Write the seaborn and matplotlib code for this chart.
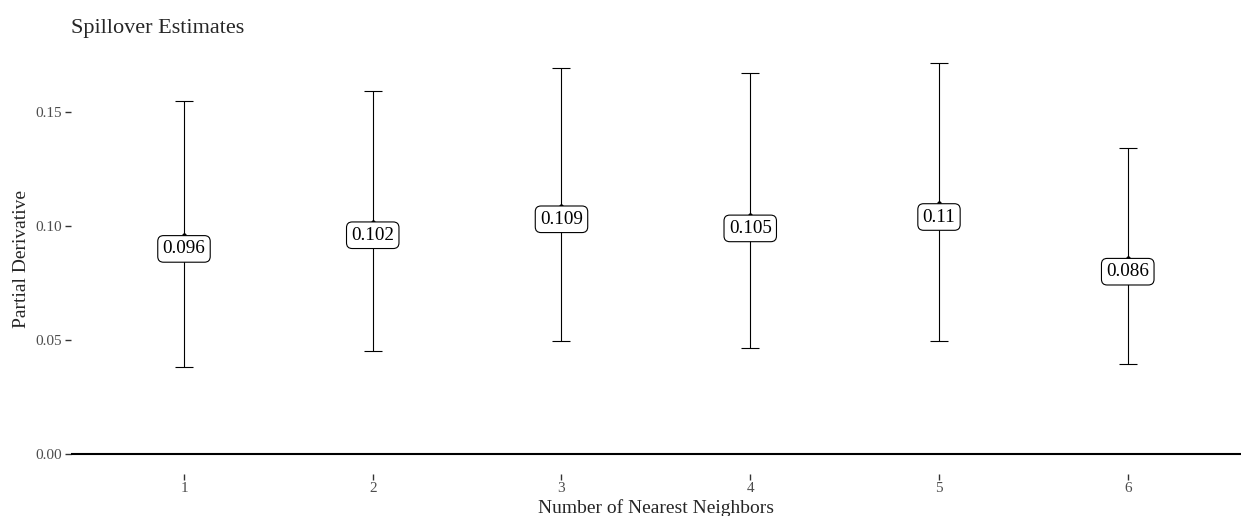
import matplotlib
matplotlib.use("Agg")
import matplotlib.pyplot as plt
import seaborn as sns
import pandas as pd

# data
neighbors = [1, 2, 3, 4, 5, 6]
estimate = [0.096, 0.102, 0.109, 0.105, 0.110, 0.086]
lower = [0.0382, 0.0452, 0.0496, 0.0465, 0.0496, 0.0395]
upper = [0.1548, 0.1592, 0.1693, 0.1671, 0.1715, 0.1342]
labels = ["0.096", "0.102", "0.109", "0.105", "0.11", "0.086"]
yticks = [0.00, 0.05, 0.10, 0.15]
ytick_labels = ["0.00", "0.05", "0.10", "0.15"]

df = pd.DataFrame({"k": neighbors, "est": estimate, "lo": lower, "hi": upper})

sns.set_style("white")
plt.rcParams["font.family"] = ["Liberation Serif", "DejaVu Serif"]

fig = plt.figure(figsize=(12.41, 5.16), dpi=100)
ax = fig.add_axes([0.057, 0.082, 0.943, 0.833])

# horizontal line at zero
ax.axhline(0, color="black", lw=1.5, zorder=1)

# error bars
yerr = [df["est"] - df["lo"], df["hi"] - df["est"]]
ax.errorbar(df["k"], df["est"], yerr=yerr, fmt="none", ecolor="black",
            elinewidth=0.8, capsize=6.5, capthick=0.8, zorder=2)

# point estimates
sns.scatterplot(data=df, x="k", y="est", color="black", s=10, ax=ax,
                zorder=3, edgecolor="black", linewidth=0)

# labels under each point
for x, y, t in zip(df["k"], df["est"], labels):
    ax.annotate(t, (x, y), xytext=(0, -9.8), textcoords="offset points",
                ha="center", va="center", fontsize=13.8, color="black",
                bbox=dict(boxstyle="round,pad=0.25,rounding_size=0.3",
                          fc="white", ec="black", lw=0.8), zorder=4)

ax.set_xlim(0.4, 6.6)
ax.set_ylim(-0.0086, 0.18)
ax.set_xticks(neighbors)
ax.set_xticklabels([str(n) for n in neighbors])
ax.set_yticks(yticks)
ax.set_yticklabels(ytick_labels)
ax.tick_params(axis="both", which="both", length=4, width=1, color="#333333",
               labelsize=11, labelcolor="#4D4D4D", pad=2, direction="out",
               bottom=True, left=True)

for s in ax.spines.values():
    s.set_visible(False)

ax.set_xlabel("Number of Nearest Neighbors", fontsize=14, labelpad=3)
ax.set_ylabel("Partial Derivative", fontsize=14, labelpad=4)
ax.set_title("Spillover Estimates", loc="left", fontsize=16, pad=8)

plt.savefig("out.png", dpi=100)
plt.close()
